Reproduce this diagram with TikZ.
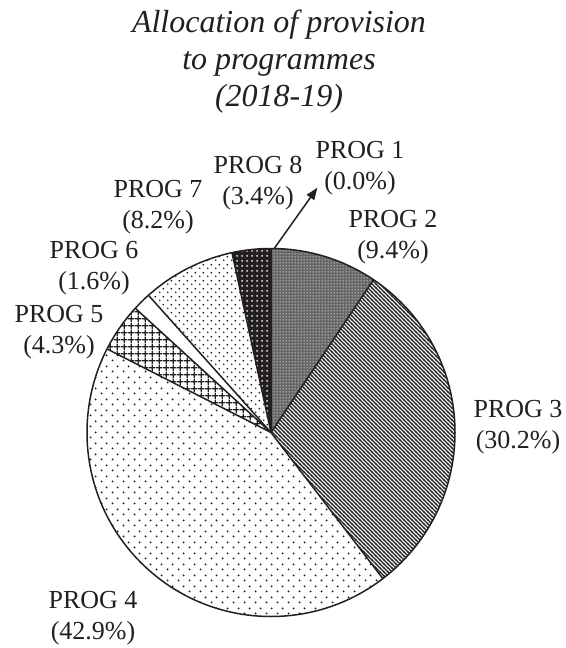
\documentclass[tikz,border=0pt]{standalone}
\usepackage{fontspec}
\setmainfont{Liberation Serif}
\usetikzlibrary{patterns, arrows.meta}
\definecolor{inkblack}{HTML}{231F20}

% fill patterns of the slices
\pgfdeclarepatternformonly{finecheck}{\pgfpointorigin}{\pgfqpoint{3pt}{3pt}}{\pgfqpoint{3pt}{3pt}}{%
  \pgfpathcircle{\pgfqpoint{1.5pt}{1.5pt}}{0.7pt}\pgfusepath{fill}}
\pgfdeclarepatternformonly{densestripes}{\pgfqpoint{-1pt}{-1pt}}{\pgfqpoint{5pt}{5pt}}{\pgfqpoint{4pt}{4pt}}{%
  \pgfsetlinewidth{1.3pt}\pgfpathmoveto{\pgfqpoint{-1pt}{5pt}}\pgfpathlineto{\pgfqpoint{5pt}{-1pt}}\pgfusepath{stroke}}
\pgfdeclarepatternformonly{sparsedots}{\pgfpointorigin}{\pgfqpoint{11pt}{11pt}}{\pgfqpoint{11pt}{11pt}}{%
  \pgfpathcircle{\pgfqpoint{2.75pt}{2.75pt}}{1.1pt}\pgfpathcircle{\pgfqpoint{8.25pt}{8.25pt}}{1.1pt}\pgfusepath{fill}}
\pgfdeclarepatternformonly{densedots}{\pgfpointorigin}{\pgfqpoint{7.5pt}{7.5pt}}{\pgfqpoint{7.5pt}{7.5pt}}{%
  \pgfpathcircle{\pgfqpoint{1.875pt}{1.875pt}}{1pt}\pgfpathcircle{\pgfqpoint{5.625pt}{5.625pt}}{1pt}\pgfusepath{fill}}
\pgfdeclarepatternformonly{boldgrid}{\pgfpointorigin}{\pgfqpoint{6.7pt}{6.7pt}}{\pgfqpoint{6.7pt}{6.7pt}}{%
  \pgfsetlinewidth{1.5pt}\pgfpathmoveto{\pgfqpoint{0pt}{3.35pt}}\pgfpathlineto{\pgfqpoint{6.7pt}{3.35pt}}%
  \pgfpathmoveto{\pgfqpoint{3.35pt}{0pt}}\pgfpathlineto{\pgfqpoint{3.35pt}{6.7pt}}\pgfusepath{stroke}}
\pgfdeclarepatternformonly{holedots}{\pgfpointorigin}{\pgfqpoint{5pt}{5pt}}{\pgfqpoint{5pt}{5pt}}{%
  \pgfpathcircle{\pgfqpoint{2.5pt}{2.5pt}}{1.3pt}\pgfusepath{fill}}

\begin{document}
\begin{tikzpicture}[
  x=1pt, y=-1pt,
  titlebox/.style={align=center, inner sep=0pt, anchor=base, font=\fontsize{32}{37}\selectfont\itshape, text=inkblack},
  progbox/.style={align=center, inner sep=0pt, anchor=base, font=\fontsize{26}{31}\selectfont, text=inkblack},
  edge/.style={draw=inkblack, line width=1.5pt, line join=round},
  fill2/.style={preaction={fill=black!60}, pattern=finecheck, pattern color=white},
  fill3/.style={pattern=densestripes, pattern color=inkblack},
  fill4/.style={pattern=sparsedots, pattern color=inkblack},
  fill5/.style={pattern=boldgrid, pattern color=inkblack},
  fill6/.style={fill=white},
  fill7/.style={pattern=densedots, pattern color=inkblack},
  fill8/.style={preaction={fill=inkblack}, pattern=holedots, pattern color=white!80!black}
]
  \fill[white] (0,0) rectangle (565,648);
  \useasboundingbox (0,0) rectangle (565,648);

  % Title (base = last line)
  \node[titlebox] (title) at (279,106) {Allocation of provision\\to programmes\\(2018-19)};

  % Pie centre, slices clockwise from the top
  \coordinate (c) at (271,432.5);
  \fill[fill2] (c) -- ++(90:184pt) arc[start angle=90, end angle=56.16, radius=184pt] -- cycle;
  \fill[fill3] (c) -- ++(56.16:184pt) arc[start angle=56.16, end angle=-52.56, radius=184pt] -- cycle;
  \fill[fill4] (c) -- ++(-52.56:184pt) arc[start angle=-52.56, end angle=-207, radius=184pt] -- cycle;
  \fill[fill5] (c) -- ++(153:184pt) arc[start angle=153, end angle=137.52, radius=184pt] -- cycle;
  \fill[fill6] (c) -- ++(137.52:184pt) arc[start angle=137.52, end angle=131.76, radius=184pt] -- cycle;
  \fill[fill7] (c) -- ++(131.76:184pt) arc[start angle=131.76, end angle=102.24, radius=184pt] -- cycle;
  \fill[fill8] (c) -- ++(102.24:184pt) arc[start angle=102.24, end angle=90, radius=184pt] -- cycle;

  % Slice borders and rim
  \draw[edge] (c) -- ++(90:184pt);
  \draw[edge] (c) -- ++(56.16:184pt);
  \draw[edge] (c) -- ++(-52.56:184pt);
  \draw[edge] (c) -- ++(153:184pt);
  \draw[edge] (c) -- ++(137.52:184pt);
  \draw[edge] (c) -- ++(131.76:184pt);
  \draw[edge] (c) -- ++(102.24:184pt);
  \draw[edge] (c) circle[radius=184pt];

  % Slice labels (base = second line)
  \node[progbox] (lbl1) at (360,189) {PROG 1\\(0.0\%)};
  \node[progbox] (lbl2) at (393,258) {PROG 2\\(9.4\%)};
  \node[progbox] (lbl3) at (518,448) {PROG 3\\(30.2\%)};
  \node[progbox] (lbl4) at (93,639) {PROG 4\\(42.9\%)};
  \node[progbox] (lbl5) at (59,353) {PROG 5\\(4.3\%)};
  \node[progbox] (lbl6) at (94,289) {PROG 6\\(1.6\%)};
  \node[progbox] (lbl7) at (158,228) {PROG 7\\(8.2\%)};
  \node[progbox] (lbl8) at (258,204) {PROG 8\\(3.4\%)};

  % Pointer to the empty slice
  \coordinate (p1edge) at ([shift={(89:184pt)}]c);
  \draw[inkblack, line width=1.5pt, -{Triangle[length=12pt, width=9pt]}] (p1edge) -- ([shift={(2pt,7pt)}]lbl1.south west);
\end{tikzpicture}
\end{document}
